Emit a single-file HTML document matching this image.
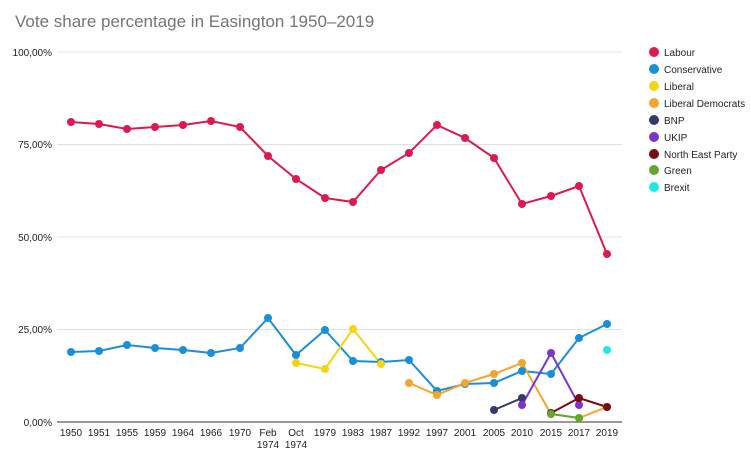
<!DOCTYPE html><html><head><style>body{margin:0;background:#fff;}svg{font-family:"Liberation Sans",sans-serif;}</style></head><body>
<svg width="751" height="453" xmlns="http://www.w3.org/2000/svg">
<text x="15" y="27" font-size="17" fill="#757575">Vote share percentage in Easington 1950–2019</text>
<g stroke="#e0e0e0" stroke-width="1">
<line x1="57" y1="52" x2="622" y2="52"/><line x1="57" y1="144.5" x2="622" y2="144.5"/><line x1="57" y1="237" x2="622" y2="237"/><line x1="57" y1="329.5" x2="622" y2="329.5"/></g>
<line x1="57" y1="422" x2="622" y2="422" stroke="#333" stroke-width="1"/>
<g font-size="10" fill="#222" text-anchor="end">
<text x="52" y="56">100,00%</text><text x="52" y="148">75,00%</text><text x="52" y="241">50,00%</text><text x="52" y="333">25,00%</text><text x="52" y="426">0,00%</text></g>
<g font-size="10" fill="#222" text-anchor="middle">
<text x="71" y="436">1950</text><text x="99" y="436">1951</text><text x="127" y="436">1955</text><text x="155" y="436">1959</text><text x="183" y="436">1964</text><text x="211" y="436">1966</text><text x="240" y="436">1970</text><text x="268" y="436">Feb</text><text x="268" y="448">1974</text><text x="296" y="436">Oct</text><text x="296" y="448">1974</text><text x="325" y="436">1979</text><text x="353" y="436">1983</text><text x="381" y="436">1987</text><text x="409" y="436">1992</text><text x="437" y="436">1997</text><text x="465" y="436">2001</text><text x="494" y="436">2005</text><text x="522" y="436">2010</text><text x="551" y="436">2015</text><text x="579" y="436">2017</text><text x="607" y="436">2019</text></g>
<g fill="none" stroke-width="2">
<polyline stroke="#dc1a4f" points="71,122 99,124 127,129 155,127 183,125 211,121 240,127 268,156 296,179 325,198 353,202 381,170 409,153 437,125 465,138 494,158 522,204 551,196 579,186 607,254"/>
<polyline stroke="#1a8fd8" points="71,352 99,351 127,345 155,348 183,350 211,353 240,348 268,318 296,355 325,330 353,361 381,362 409,360 437,391 465,384 494,383 522,371 551,374 579,338 607,324"/>
<polyline stroke="#f5d412" points="296,363 325,369 353,329 381,364"/>
<polyline stroke="#f2a62b" points="409,383 437,395 465,383 494,374 522,363 551,414 579,418 607,407"/>
<polyline stroke="#333a6e" points="494,410 522,398"/>
<polyline stroke="#7b35c9" points="522,405 551,353 579,405"/>
<polyline stroke="#7a0b12" points="551,413 579,398 607,407"/>
<polyline stroke="#63a82d" points="551,414 579,418"/>
</g>
<g fill="#dc1a4f"><circle cx="71" cy="122" r="4"/><circle cx="99" cy="124" r="4"/><circle cx="127" cy="129" r="4"/><circle cx="155" cy="127" r="4"/><circle cx="183" cy="125" r="4"/><circle cx="211" cy="121" r="4"/><circle cx="240" cy="127" r="4"/><circle cx="268" cy="156" r="4"/><circle cx="296" cy="179" r="4"/><circle cx="325" cy="198" r="4"/><circle cx="353" cy="202" r="4"/><circle cx="381" cy="170" r="4"/><circle cx="409" cy="153" r="4"/><circle cx="437" cy="125" r="4"/><circle cx="465" cy="138" r="4"/><circle cx="494" cy="158" r="4"/><circle cx="522" cy="204" r="4"/><circle cx="551" cy="196" r="4"/><circle cx="579" cy="186" r="4"/><circle cx="607" cy="254" r="4"/></g>
<g fill="#1a8fd8"><circle cx="71" cy="352" r="4"/><circle cx="99" cy="351" r="4"/><circle cx="127" cy="345" r="4"/><circle cx="155" cy="348" r="4"/><circle cx="183" cy="350" r="4"/><circle cx="211" cy="353" r="4"/><circle cx="240" cy="348" r="4"/><circle cx="268" cy="318" r="4"/><circle cx="296" cy="355" r="4"/><circle cx="325" cy="330" r="4"/><circle cx="353" cy="361" r="4"/><circle cx="381" cy="362" r="4"/><circle cx="409" cy="360" r="4"/><circle cx="437" cy="391" r="4"/><circle cx="465" cy="384" r="4"/><circle cx="494" cy="383" r="4"/><circle cx="522" cy="371" r="4"/><circle cx="551" cy="374" r="4"/><circle cx="579" cy="338" r="4"/><circle cx="607" cy="324" r="4"/></g>
<g fill="#f5d412"><circle cx="296" cy="363" r="4"/><circle cx="325" cy="369" r="4"/><circle cx="353" cy="329" r="4"/><circle cx="381" cy="364" r="4"/></g>
<g fill="#f2a62b"><circle cx="409" cy="383" r="4"/><circle cx="437" cy="395" r="4"/><circle cx="465" cy="383" r="4"/><circle cx="494" cy="374" r="4"/><circle cx="522" cy="363" r="4"/><circle cx="551" cy="414" r="4"/><circle cx="579" cy="418" r="4"/><circle cx="607" cy="407" r="4"/></g>
<g fill="#333a6e"><circle cx="494" cy="410" r="4"/><circle cx="522" cy="398" r="4"/></g>
<g fill="#7b35c9"><circle cx="522" cy="405" r="4"/><circle cx="551" cy="353" r="4"/><circle cx="579" cy="405" r="4"/></g>
<g fill="#7a0b12"><circle cx="551" cy="413" r="4"/><circle cx="579" cy="398" r="4"/><circle cx="607" cy="407" r="4"/></g>
<g fill="#63a82d"><circle cx="551" cy="414" r="4"/><circle cx="579" cy="418" r="4"/></g>
<circle cx="607" cy="350" r="4" fill="#1ee8ec"/>
<g font-size="10" fill="#222">
<circle cx="654" cy="52" r="5" fill="#dc1a4f"/><text x="664" y="56">Labour</text>
<circle cx="654" cy="69" r="5" fill="#1a8fd8"/><text x="664" y="73">Conservative</text>
<circle cx="654" cy="86" r="5" fill="#f5d412"/><text x="664" y="90">Liberal</text>
<circle cx="654" cy="103" r="5" fill="#f2a62b"/><text x="664" y="107">Liberal Democrats</text>
<circle cx="654" cy="120" r="5" fill="#333a6e"/><text x="664" y="124">BNP</text>
<circle cx="654" cy="137" r="5" fill="#7b35c9"/><text x="664" y="141">UKIP</text>
<circle cx="654" cy="154" r="5" fill="#7a0b12"/><text x="664" y="158">North East Party</text>
<circle cx="654" cy="170" r="5" fill="#63a82d"/><text x="664" y="174">Green</text>
<circle cx="654" cy="187" r="5" fill="#1ee8ec"/><text x="664" y="191">Brexit</text>
</g>
</svg></body></html>
